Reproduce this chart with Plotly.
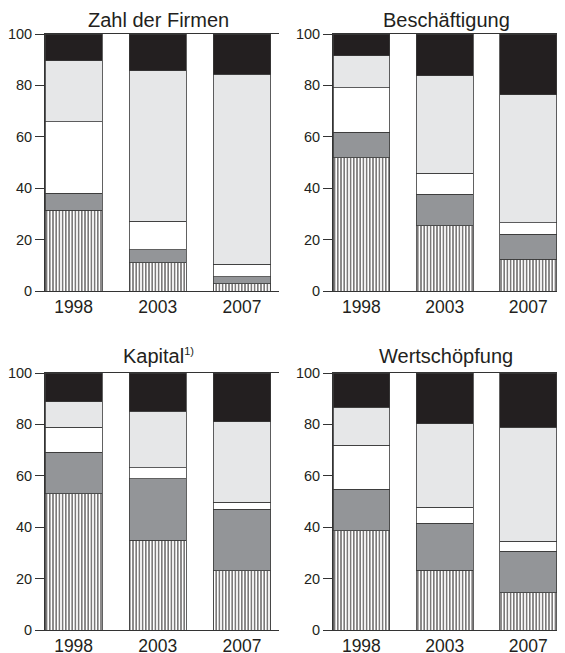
import plotly.graph_objects as go

years = ["1998", "2003", "2007"]
y_ticks = [0, 20, 40, 60, 80, 100]
titles = ["Zahl der Firmen", "Beschäftigung",
          "Kapital<sup><span style='font-size:11px'>1)</span></sup>", "Wertschöpfung"]

# segment shares (bottom to top) per panel, values for 1998, 2003, 2007
firmen_hatched = [31.4, 11.0, 2.9]
firmen_gray = [6.6, 5.1, 2.7]
firmen_white = [27.9, 11.0, 4.8]
firmen_light = [23.6, 58.6, 73.9]
firmen_black = [10.5, 14.3, 15.7]

besch_hatched = [51.9, 25.4, 12.3]
besch_gray = [9.8, 12.3, 9.7]
besch_white = [17.4, 8.1, 4.6]
besch_light = [12.5, 38.0, 49.7]
besch_black = [8.4, 16.2, 23.7]

kapital_hatched = [53.0, 34.9, 23.0]
kapital_gray = [16.1, 23.9, 24.0]
kapital_white = [9.8, 4.4, 2.7]
kapital_light = [9.9, 22.0, 31.4]
kapital_black = [11.2, 14.8, 18.9]

wert_hatched = [38.7, 23.2, 14.5]
wert_gray = [16.0, 18.3, 16.2]
wert_white = [17.2, 6.2, 3.9]
wert_light = [14.7, 32.6, 44.2]
wert_black = [13.4, 19.7, 21.2]

panels = [
    [firmen_hatched, firmen_gray, firmen_white, firmen_light, firmen_black],
    [besch_hatched, besch_gray, besch_white, besch_light, besch_black],
    [kapital_hatched, kapital_gray, kapital_white, kapital_light, kapital_black],
    [wert_hatched, wert_gray, wert_white, wert_light, wert_black],
]

INK = "#231f20"
seg_styles = [
    dict(color="white", pattern=dict(shape="|", fgcolor=INK, bgcolor="white", size=3.2, solidity=0.3, fillmode="replace")),
    dict(color="#939598"),
    dict(color="white"),
    dict(color="#e6e7e8"),
    dict(color=INK),
]

# page has an 8px body margin; figure sized to fill the rest of the window
W, H = 557, 645
xdom = [(37 / W, 271 / W), (325 / W, 1.0)]
ydom = [(1 - 283 / H, 1 - 26 / H), (1 - 622 / H, 1 - 365 / H)]
plot_top = [26, 365]
title_gap = [1, 4]

fig = go.Figure()
xpos = [0, 1, 2]
for p, segs in enumerate(panels):
    ax = "" if p == 0 else str(p + 1)
    for s, vals in enumerate(segs):
        m = dict(seg_styles[s])
        m["line"] = dict(color="#3a3a3a", width=0.8)
        fig.add_trace(go.Bar(x=xpos, y=vals, width=0.68, marker=m,
                             xaxis="x" + ax, yaxis="y" + ax, showlegend=False,
                             hoverinfo="skip"))

layout = dict(
    width=W, height=H, barmode="stack", autosize=False,
    margin=dict(l=0, r=0, t=0, b=0, pad=0, autoexpand=False),
    paper_bgcolor="white", plot_bgcolor="white",
    font=dict(family="Liberation Sans, Arial, sans-serif", color=INK),
)
annotations = []
for p in range(4):
    col, row = p % 2, p // 2
    ax = "" if p == 0 else str(p + 1)
    layout["xaxis" + ax] = dict(
        domain=list(xdom[col]), anchor="y" + ax, range=[-0.34, 2.44],
        tickvals=xpos, ticktext=years, ticks="", showline=True, mirror=True,
        linecolor="#333333", linewidth=1, showgrid=False, zeroline=False,
        tickfont=dict(size=17.5), fixedrange=True, automargin=False,
    )
    layout["yaxis" + ax] = dict(
        domain=list(ydom[row]), anchor="x" + ax, range=[0, 100],
        tickvals=y_ticks, ticks="outside", ticklen=9, tickcolor="#333333",
        showline=True, linecolor="#333333", linewidth=1, showgrid=False,
        zeroline=False, tickfont=dict(size=14.5), fixedrange=True,
        automargin=False,
    )
    annotations.append(dict(
        text=titles[p], xref="paper", yref="paper",
        x=(xdom[col][0] * W + 113) / W, y=1 - (plot_top[row] - title_gap[row]) / H,
        xanchor="center", yanchor="bottom", showarrow=False,
        font=dict(size=20, color=INK),
    ))
layout["annotations"] = annotations
fig.update_layout(**layout)
fig.write_html("out.html")
